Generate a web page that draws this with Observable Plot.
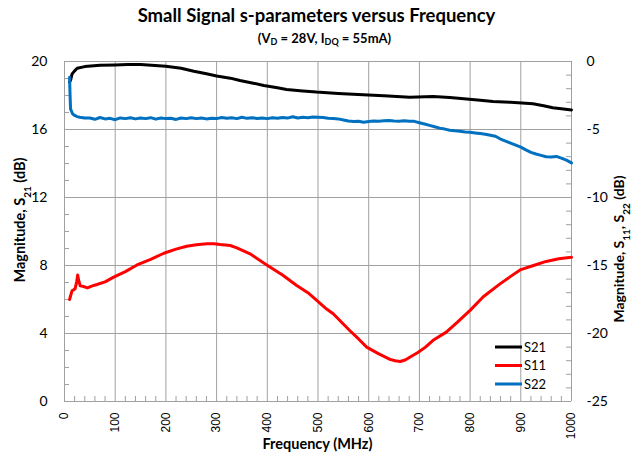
<!DOCTYPE html>
<html><head><meta charset="utf-8">
<script src="https://cdn.jsdelivr.net/npm/d3@7"></script>
<script src="https://cdn.jsdelivr.net/npm/@observablehq/plot@0.6"></script>
<style>
body{margin:0;background:#fff;}
#wrap{position:relative;width:633px;height:457px;overflow:hidden;font-family:Lato,"Open Sans",sans-serif;color:#000;}
#title{position:absolute;left:0;width:633px;top:4px;text-align:center;font-weight:bold;font-size:18.5px;}
#sub{position:absolute;left:8px;width:633px;top:30px;text-align:center;font-weight:bold;font-size:13px;}
#sub sub{font-size:9px;vertical-align:-2px;line-height:0;}
#chart{position:absolute;left:0;top:50px;}
</style></head><body>
<div id="wrap">
<div id="title">Small Signal s-parameters versus Frequency</div>
<div id="sub">(V<sub>D</sub> = 28V, I<sub>DQ</sub> = 55mA)</div>
<div id="chart"></div>
</div>
<script>
// ---- data ----
const s21Freq = [10,12,15,20,25,40,70,100,125,150,200,230,255,280,300,327,346,370,393,420,438,470,497,540,589,630,681,727,760,793,820,845,880,924,945,963,980,1000];
const s21Db   = [18.8,18.9,19.27,19.45,19.6,19.7,19.78,19.8,19.82,19.82,19.72,19.6,19.43,19.28,19.15,19.02,18.88,18.74,18.59,18.45,18.35,18.27,18.2,18.12,18.04,17.98,17.9,17.94,17.88,17.8,17.72,17.65,17.6,17.51,17.4,17.28,17.22,17.15];

const s11Freq = [10,13,15,18,21,24,26,28,31,38,45,55,64,80,97,120,143,170,196,220,241,260,281,295,307,327,340,366,399,430,458,480,497,517,530,563,580,596,620,642,652,662,672,681,697,712,727,753,775,800,826,859,880,900,925,950,975,1000];
const s11Db   = [-17.5,-17.1,-16.85,-16.8,-16.7,-16.2,-15.7,-16.1,-16.5,-16.55,-16.65,-16.5,-16.4,-16.2,-15.86,-15.45,-14.96,-14.55,-14.1,-13.8,-13.58,-13.47,-13.4,-13.4,-13.46,-13.53,-13.7,-14.14,-14.96,-15.7,-16.47,-17.0,-17.55,-18.2,-18.55,-19.8,-20.4,-21.0,-21.5,-21.9,-22.0,-22.06,-21.95,-21.75,-21.4,-21.0,-20.5,-19.9,-19.17,-18.3,-17.3,-16.35,-15.8,-15.3,-15.0,-14.7,-14.5,-14.4];

const s22Freq = [10,11,12,16,20,25,30,40,50,60,70,80,90,100,110,120,130,140,150,160,170,180,190,200,210,220,230,240,250,260,270,280,290,300,310,320,330,340,350,360,370,380,390,400,410,420,430,440,450,460,470,480,490,500,510,520,530,540,550,560,570,580,590,600,610,620,630,640,650,660,670,680,690,700,710,720,730,740,750,760,770,780,790,800,810,820,830,840,850,860,870,880,890,900,910,920,930,940,950,960,970,980,990,1000];
const s22Db   = [-1.15,-2.5,-3.5,-3.85,-3.97,-4.05,-4.1,-4.15,-4.15,-4.25,-4.12,-4.22,-4.18,-4.28,-4.15,-4.2,-4.14,-4.22,-4.16,-4.2,-4.13,-4.24,-4.15,-4.2,-4.17,-4.26,-4.15,-4.2,-4.13,-4.2,-4.15,-4.22,-4.17,-4.2,-4.12,-4.18,-4.14,-4.2,-4.1,-4.18,-4.13,-4.19,-4.15,-4.2,-4.14,-4.18,-4.12,-4.16,-4.06,-4.15,-4.1,-4.14,-4.08,-4.1,-4.12,-4.18,-4.2,-4.22,-4.3,-4.38,-4.42,-4.4,-4.46,-4.42,-4.38,-4.4,-4.36,-4.34,-4.38,-4.39,-4.36,-4.4,-4.4,-4.5,-4.6,-4.7,-4.8,-4.9,-4.97,-5.05,-5.1,-5.13,-5.18,-5.2,-5.25,-5.3,-5.35,-5.42,-5.5,-5.7,-5.85,-6.0,-6.15,-6.3,-6.5,-6.68,-6.8,-6.9,-7.0,-7.02,-6.98,-7.1,-7.25,-7.45];

const xTicks = [0,100,200,300,400,500,600,700,800,900,1000];
const leftTicks = [0,4,8,12,16,20];
const rightTicks = [-25,-20,-15,-10,-5,0];
const seriesNames = ["S21","S11","S22"];
const seriesColors = ["#000000","#ff0000","#0070c0"];

// ---- layout ----
const W = 633, H = 407, mt = 11, mb = 56, ml = 64, mr = 62;
const innerW = W - ml - mr, innerH = H - mt - mb;
const gridColor = "#a0a0a0";

// right axis (S11, S22 in dB) mapped onto the left scale
const rMin = rightTicks[0], rMax = rightTicks[rightTicks.length-1];
const lMin = leftTicks[0], lMax = leftTicks[leftTicks.length-1];
const toLeft = v => lMin + (v - rMin) * (lMax - lMin) / (rMax - rMin);
const toRight = v => rMin + (v - lMin) * (rMax - rMin) / (lMax - lMin);

const s21 = s21Freq.map((f,i) => ({f, y: s21Db[i]}));
const s11 = s11Freq.map((f,i) => ({f, y: toLeft(s11Db[i])}));
const s22 = s22Freq.map((f,i) => ({f, y: toLeft(s22Db[i])}));

const minorX = d3.range(0, 1001, 20).filter(d => d % 100 !== 0);
const minorL = d3.range(lMin, lMax + 1, 1).filter(d => d % 4 !== 0);
const minorR = d3.range(rMin, rMax + 1, 1).filter(d => d % 5 !== 0).map(toLeft);

const chart = Plot.plot({
  width: W, height: H,
  marginTop: mt, marginBottom: mb, marginLeft: ml, marginRight: mr,
  style: {fontFamily: "Lato, sans-serif", background: "#fff", color: "#000"},
  x: {domain: [0, 1000], axis: null},
  y: {domain: [lMin, lMax], axis: null},
  marks: [
    Plot.ruleX(xTicks, {stroke: gridColor, strokeWidth: 1}),
    Plot.ruleY(leftTicks, {stroke: gridColor, strokeWidth: 1}),
    Plot.tickX(minorX, {x: d => d, stroke: gridColor, insetTop: innerH - 5}),
    Plot.tickY(minorL, {y: d => d, stroke: gridColor, insetRight: innerW - 5}),
    Plot.tickY(minorR, {y: d => d, stroke: gridColor, insetLeft: innerW - 5}),
    Plot.text(xTicks, {x: d => d, frameAnchor: "bottom", text: d => String(d), rotate: -90,
      textAnchor: "end", lineAnchor: "middle", dy: 11, fontSize: 12, fontFamily: "Liberation Sans, Arial, sans-serif", fill: "#000"}),
    Plot.axisY(leftTicks, {anchor: "left", tickSize: 0, tickPadding: 17, fontSize: 14, label: null}),
    Plot.axisY(leftTicks, {anchor: "right", tickSize: 0, tickPadding: 15, fontSize: 14, label: null,
      tickFormat: d => String(Math.round(toRight(d)))}),
    Plot.line(s21, {x: "f", y: "y", stroke: seriesColors[0], strokeWidth: 3}),
    Plot.line(s11, {x: "f", y: "y", stroke: seriesColors[1], strokeWidth: 3}),
    Plot.line(s22, {x: "f", y: "y", stroke: seriesColors[2], strokeWidth: 3})
  ]
});
document.getElementById("chart").appendChild(chart);

// ---- axis titles & legend ----
const svg = d3.select(chart);
function subText(sel, parts) {
  parts.forEach(p => {
    const t = sel.append("tspan").text(p[0]);
    if (p[1]) t.attr("baseline-shift", "sub").attr("font-size", "10px");
  });
}
const lt = svg.append("text").attr("transform", `translate(25,${mt + innerH/2 - 11}) rotate(-90)`)
  .attr("text-anchor", "middle").attr("font-weight", "bold").attr("font-size", "14.5px").attr("fill", "#000");
subText(lt, [["Magnitude, S"],["21",1],[" (dB)"]]);
const rt = svg.append("text").attr("transform", `translate(624,${mt + innerH/2 + 18}) rotate(-90)`)
  .attr("text-anchor", "middle").attr("font-weight", "bold").attr("font-size", "14px").attr("fill", "#000");
subText(rt, [["Magnitude, S"],["11",1],[", S"],["22",1],[" (dB)"]]);
svg.append("text").attr("x", ml + innerW/2).attr("y", 399).attr("text-anchor", "middle")
  .attr("font-weight", "bold").attr("font-size", "14.5px").attr("fill", "#000").text("Frequency (MHz)");

const lg = svg.append("g").attr("text-anchor", "start");
seriesNames.forEach((name, i) => {
  const yy = 297 + i * 18.5;
  lg.append("line").attr("x1", 495).attr("x2", 522).attr("y1", yy).attr("y2", yy)
    .attr("stroke", seriesColors[i]).attr("stroke-width", 3);
  lg.append("text").attr("x", 524).attr("y", yy).attr("dy", "0.35em").attr("font-size", "13px")
    .attr("text-anchor", "start").attr("fill", "#000").text(name);
});
</script>
</body></html>
